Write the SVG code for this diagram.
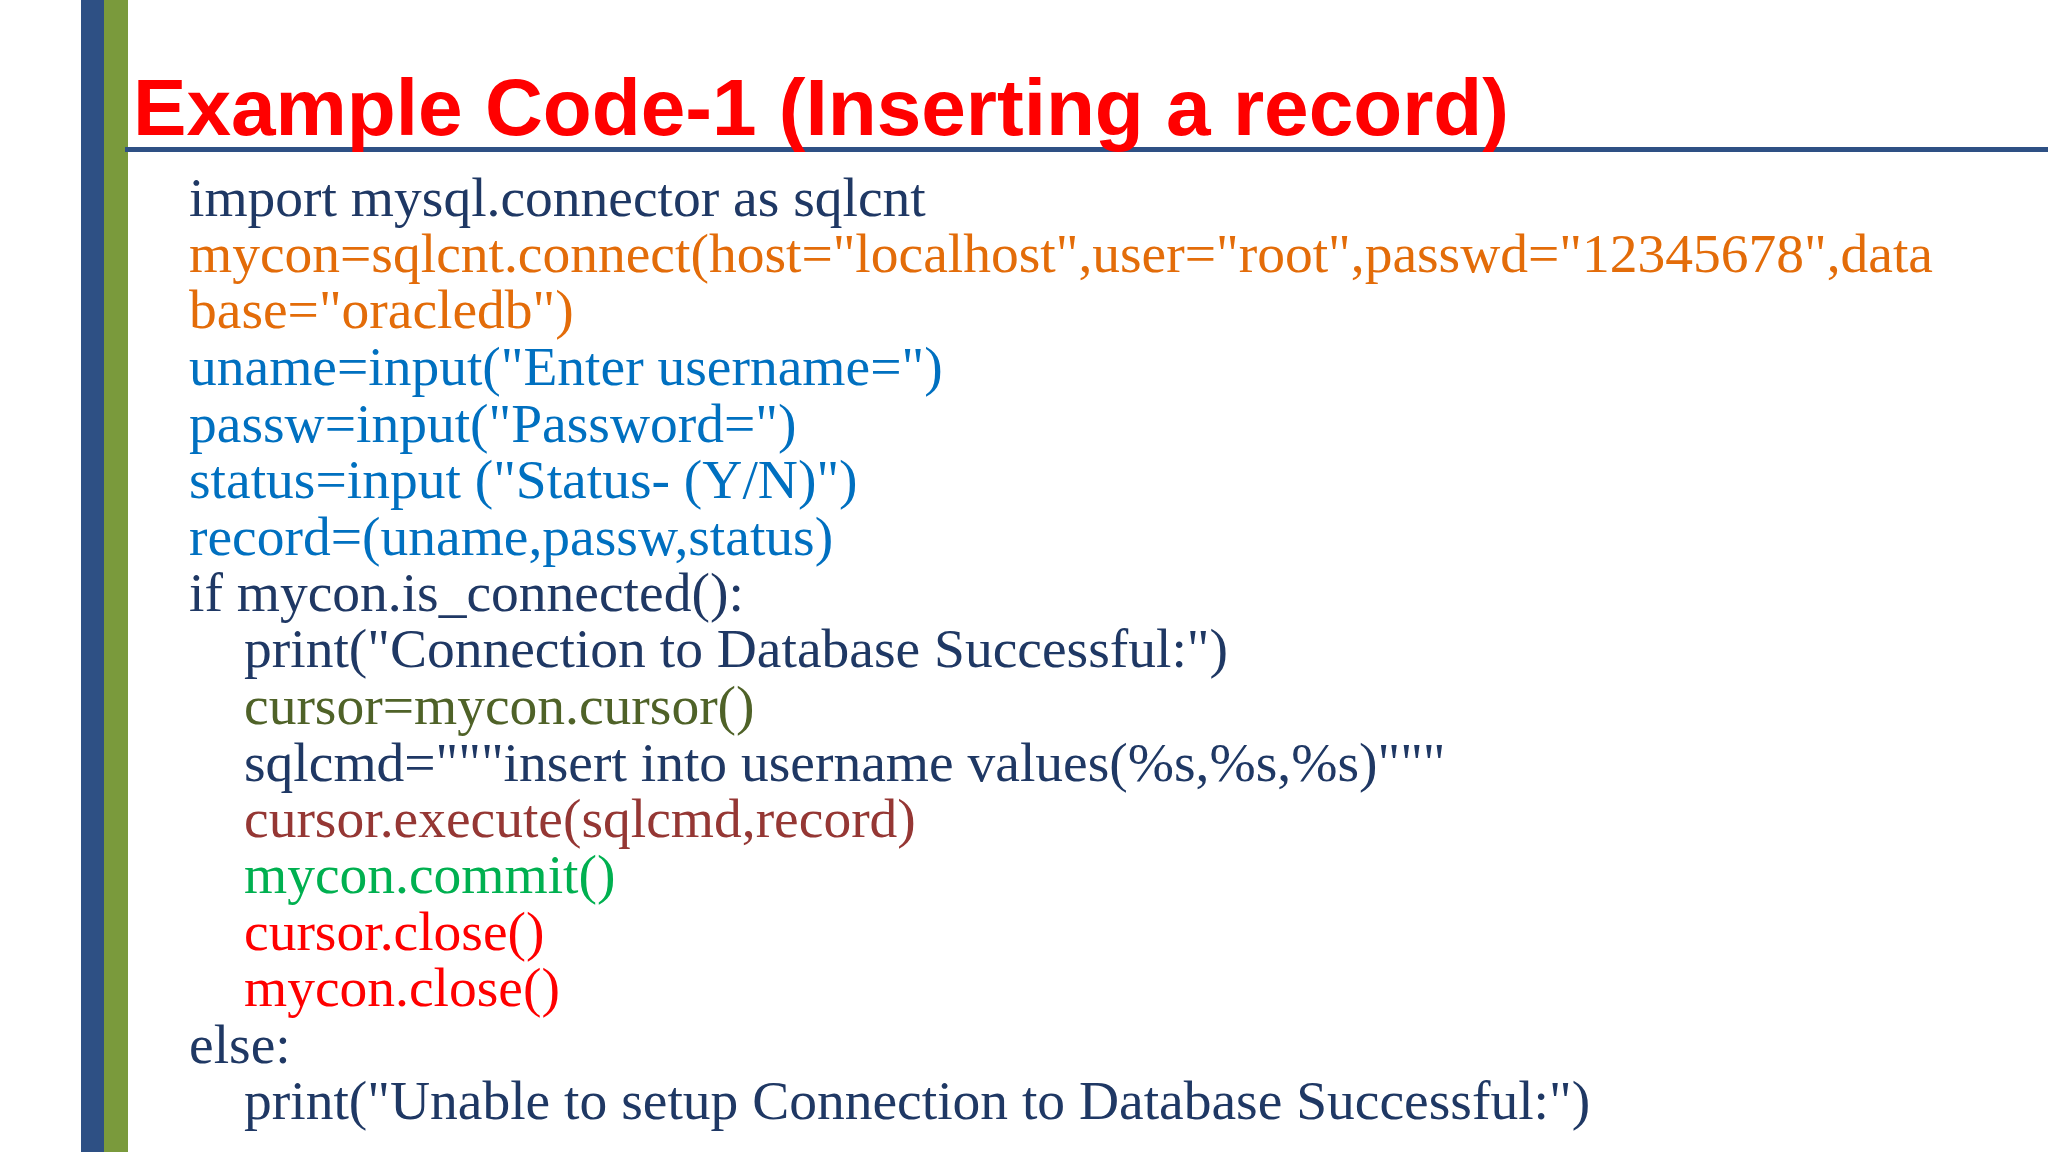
<svg xmlns="http://www.w3.org/2000/svg" width="2048" height="1152" viewBox="0 0 2048 1152">
<style>
.c{font-family:"Liberation Serif",serif;font-size:55.5px}
.t{font-family:"Liberation Sans",sans-serif;font-size:80px;font-weight:bold;fill:#FF0000}
</style>
<rect width="2048" height="1152" fill="#fff"/>
<rect x="81" y="0" width="23" height="1152" fill="#2E5084"/>
<rect x="104" y="0" width="24" height="1152" fill="#7A9A3C"/>
<rect x="125" y="147" width="1923" height="5" fill="#2E5084"/>
<text class="t" x="133" y="135" textLength="1376" lengthAdjust="spacingAndGlyphs">Example Code-1 (Inserting a record)</text>
<g class="c">
<text x="189" y="216" fill="#1F3864">import mysql.connector as sqlcnt</text>
<text x="189" y="272" fill="#E36C09" textLength="1744" lengthAdjust="spacingAndGlyphs">mycon=sqlcnt.connect(host="localhost",user="root",passwd="12345678",data</text>
<text x="189" y="328" fill="#E36C09">base="oracledb")</text>
<text x="189" y="385" fill="#0070C0">uname=input("Enter username=")</text>
<text x="189" y="442" fill="#0070C0">passw=input("Password=")</text>
<text x="189" y="498" fill="#0070C0">status=input ("Status- (Y/N)")</text>
<text x="189" y="555" fill="#0070C0">record=(uname,passw,status)</text>
<text x="189" y="611" fill="#1F3864">if mycon.is_connected():</text>
<text x="244" y="667" fill="#1F3864">print("Connection to Database Successful:")</text>
<text x="244" y="724" fill="#4F6228">cursor=mycon.cursor()</text>
<text x="244" y="781" fill="#1F3864">sqlcmd="""insert into username values(%s,%s,%s)"""</text>
<text x="244" y="837" fill="#953734">cursor.execute(sqlcmd,record)</text>
<text x="244" y="893" fill="#00B050">mycon.commit()</text>
<text x="244" y="950" fill="#FF0000">cursor.close()</text>
<text x="244" y="1006" fill="#FF0000">mycon.close()</text>
<text x="189" y="1063" fill="#1F3864">else:</text>
<text x="244" y="1119" fill="#1F3864">print("Unable to setup Connection to Database Successful:")</text>
</g>
</svg>
